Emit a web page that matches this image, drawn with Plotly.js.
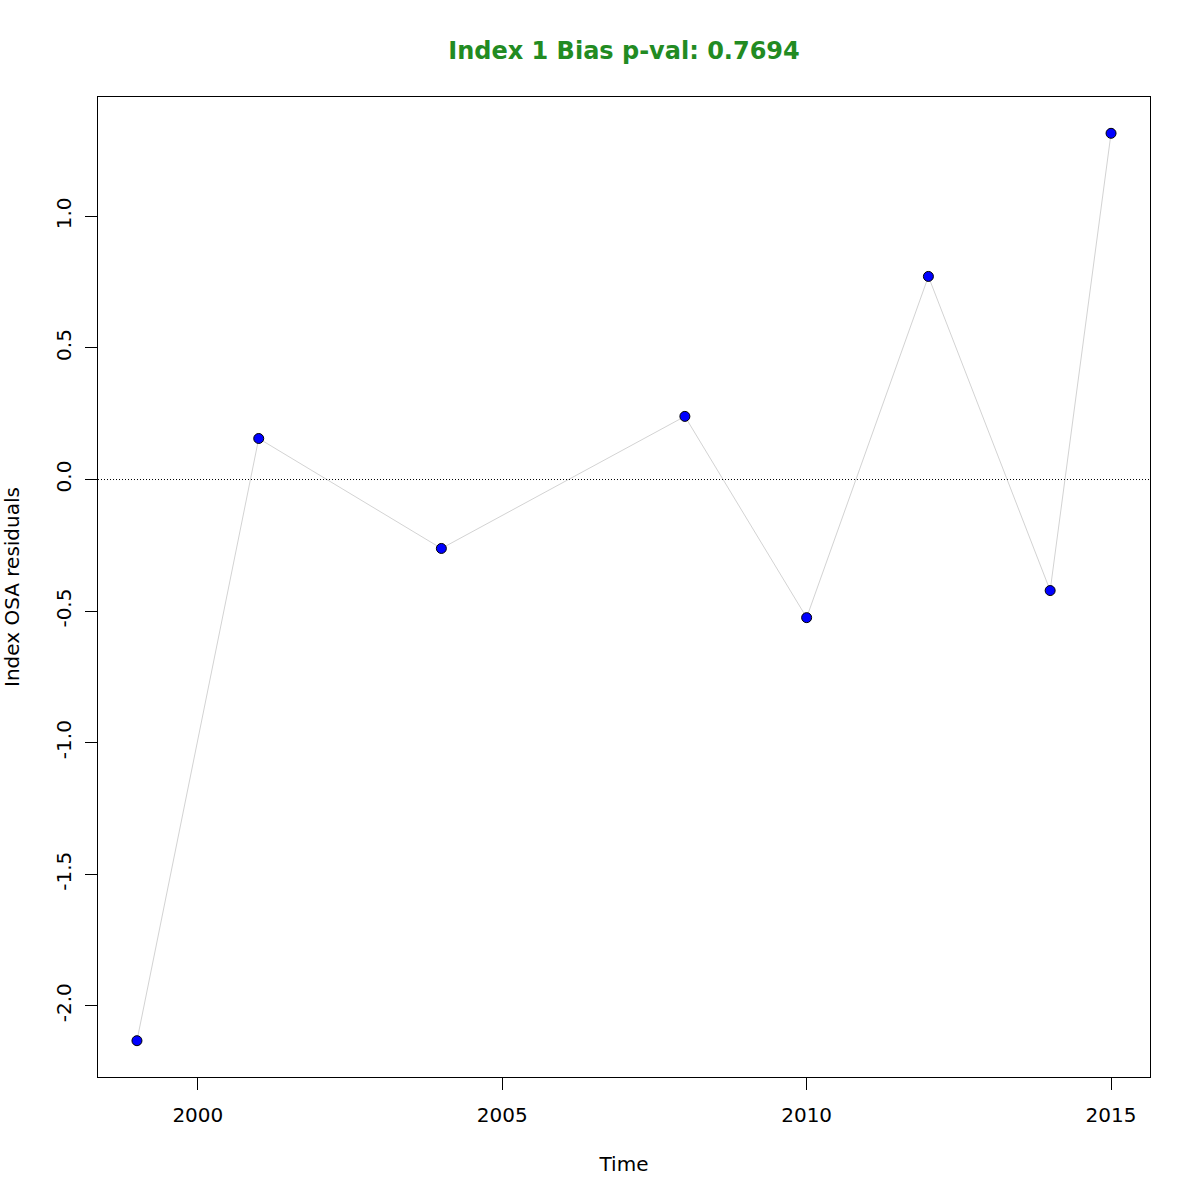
<!DOCTYPE html>
<html>
<head>
<meta charset="utf-8">
<script src="https://cdn.plot.ly/plotly-3.0.1.min.js"></script>
<style>body{margin:0;background:#fff}#chart{width:1200px;height:1200px}</style>
</head>
<body>
<div id="chart"></div>
<script>
const years = [1999, 2001, 2004, 2008, 2010, 2012, 2014, 2015];
const residuals = [-2.133, 0.156, -0.262, 0.240, -0.525, 0.772, -0.422, 1.316];
const xTicks = [2000, 2005, 2010, 2015];
const yTicks = [-2.0, -1.5, -1.0, -0.5, 0.0, 0.5, 1.0];
const yTickText = ["-2.0", "-1.5", "-1.0", "-0.5", "0.0", "0.5", "1.0"];
const titleText = "Index 1 Bias p-val: 0.7694";

const font = "DejaVu Sans, sans-serif";
const traces = [
  {x: years, y: residuals, type: "scatter", mode: "lines",
   line: {color: "#d3d3d3", width: 1}, hoverinfo: "skip", showlegend: false},
  {x: years, y: residuals, type: "scatter", mode: "markers",
   marker: {color: "#0000ff", size: 10, line: {color: "#000000", width: 1}}, showlegend: false}
];
const layout = {
  width: 1200, height: 1200,
  margin: {l: 98, r: 50, t: 97, b: 123},
  paper_bgcolor: "#fff", plot_bgcolor: "#fff",
  font: {family: font, color: "#000", size: 20},
  title: {text: "<b>" + titleText + "</b>", font: {family: font, size: 24, color: "#228B22"},
          x: 0.52, xanchor: "center", y: 0.958, yanchor: "middle"},
  xaxis: {range: [1998.36, 2015.64], tickvals: xTicks, ticktext: xTicks.map(String),
          ticks: "outside", ticklen: 12, tickcolor: "#000", tickwidth: 1,
          showgrid: false, zeroline: false, showline: true, mirror: true, linecolor: "#000", linewidth: 1,
          ticklabelstandoff: 8,
          title: {text: "Time", font: {size: 20}, standoff: 30}},
  yaxis: {range: [-2.271, 1.454], tickvals: yTicks, ticktext: yTickText, tickangle: -90,
          ticks: "outside", ticklen: 12, tickcolor: "#000", tickwidth: 1,
          showgrid: false, zeroline: false, showline: true, mirror: true, linecolor: "#000", linewidth: 1,
          ticklabelstandoff: 6,
          title: {text: "Index OSA residuals", font: {size: 20}, standoff: 28}},
  shapes: [{type: "line", xref: "paper", x0: 0, x1: 1, yref: "y", y0: 0, y1: 0,
            line: {color: "#000", width: 1, dash: "1px,2px"}}]
};
Plotly.newPlot("chart", traces, layout, {displayModeBar: false});
</script>
</body>
</html>
